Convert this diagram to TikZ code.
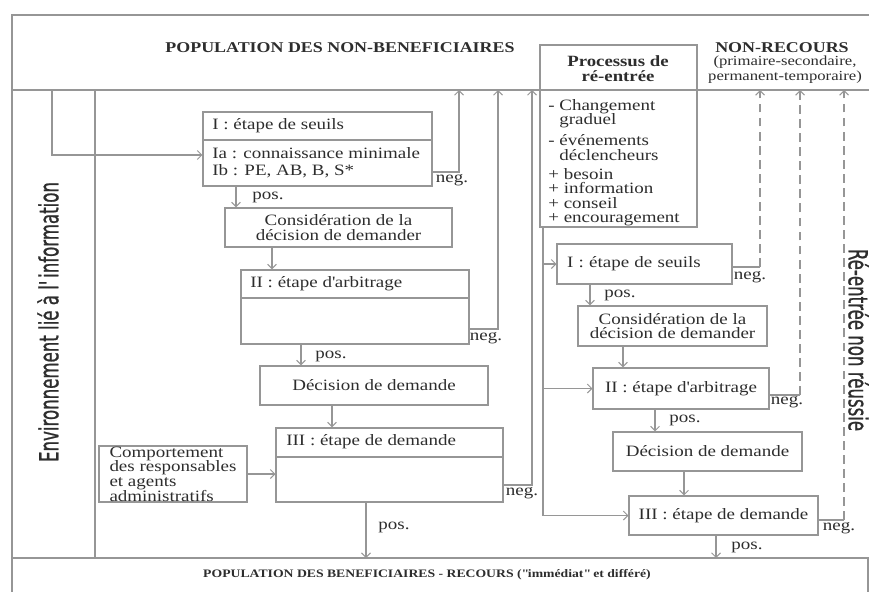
\documentclass[tikz,border=0pt]{standalone}
\usepackage{fontspec}
\setmainfont{Liberation Serif}[FakeStretch=1.2]
\newfontfamily\sidefont[FakeStretch=0.63, FakeBold=0.8]{DejaVu Sans}
\usetikzlibrary{arrows.meta, positioning}
\definecolor{linegray}{RGB}{150, 150, 150}
\definecolor{inkgray}{RGB}{45, 45, 45}
\newcommand{\tightlines}{\lineskiplimit-6pt\relax}
\newcommand{\straightq}{{\XeTeXglyph\XeTeXglyphindex "quotedbl"\relax}}
\newcommand{\straighta}{{\XeTeXglyph\XeTeXglyphindex "quotesingle"\relax}}

\tikzset{
  stage/.style={draw=linegray, line width=0.6pt, inner sep=0pt},
  txt/.style={text=inkgray, font=\fontsize{9}{8.3}\selectfont\tightlines, inner sep=0pt},
  head/.style={text=inkgray, font=\bfseries\fontsize{8.5}{10}\selectfont, inner sep=0pt},
  tag/.style={text=inkgray, font=\fontsize{9}{9}\selectfont, inner sep=0pt},
  side/.style={text=inkgray, font=\sidefont\fontsize{15}{15}\selectfont, inner sep=0pt},
  rule/.style={draw=linegray, line width=0.6pt},
  arr/.style={draw=linegray, line width=0.6pt, -{Straight Barb[length=2.5pt, width=5pt]}},
  negline/.style={draw=linegray, line width=0.6pt, dash pattern=on 5pt off 3pt, -{Straight Barb[length=2.5pt, width=5pt]}}
}

\begin{document}
\begin{tikzpicture}[x=0.02cm, y=-0.02cm]
  \useasboundingbox (0,0) rectangle (869,592);

  % Frame and bands
  \draw[rule] (869,15) -- (12,15) -- (12,592);
  \draw[rule] (12,90) -- (869,90);
  \draw[rule] (95,90) -- (95,558);
  \draw[rule] (12,558) -- (868,558) -- (868,592);

  \node[head] (nonbenef) at (340,48) {POPULATION DES NON-BENEFICIAIRES};
  \node[head] (nonrecours) at (782,48) {NON-RECOURS};
  \node[txt, font=\fontsize{7.9}{8.5}\selectfont\tightlines, align=center] (nonrecsub) at (785,70) {(primaire-secondaire,\\permanent-temporaire)};
  \node[head, font=\bfseries\fontsize{6.5}{8}\selectfont] (benef) at (427,575) {POPULATION DES BENEFICIAIRES - RECOURS (\straightq immédiat\straightq{} et différé)};

  \node[side, rotate=90] (envinfo) at (48,322) {Environnement lié à l\straighta information};
  \node[side, rotate=-90] (reentree) at (859,340) {Ré-entrée non réussie};

  % First pass
  \node[stage, minimum width=4.58cm, minimum height=1.48cm] (seuilsA) at (317.5,149) {};
  \draw[rule] (seuilsA.west |- 0,140) -- (seuilsA.east |- 0,140);
  \node[txt, anchor=west] (seuilsAt) at (212,126) {I : étape de seuils};
  \node[txt, anchor=west, align=left] (seuilsAs) at (212,163) {Ia : connaissance minimale\\[1.5pt]Ib : PE, AB, B, S*};

  \node[stage, txt, minimum width=4.54cm, minimum height=0.78cm, align=center] (considA) at (338.5,227.5) {Considération de la\\décision de demander};

  \node[stage, minimum width=4.56cm, minimum height=1.48cm] (arbitA) at (355,307) {};
  \draw[rule] (arbitA.west |- 0,298) -- (arbitA.east |- 0,298);
  \node[txt, anchor=west] (arbitAt) at (250,284) {II : étape d\straighta arbitrage};

  \node[stage, txt, minimum width=4.56cm, minimum height=0.78cm] (decisA) at (374,385.5) {Décision de demande};

  \node[stage, minimum width=4.54cm, minimum height=1.48cm] (demA) at (389.5,465) {};
  \draw[rule] (demA.west |- 0,457) -- (demA.east |- 0,457);
  \node[txt, anchor=west] (demAt) at (286,442) {III : étape de demande};

  \node[stage, txt, minimum width=2.96cm, minimum height=1.12cm, align=left] (comport) at (173,474) {Comportement\\des responsables\\et agents\\administratifs};

  % Re-entry
  \node[stage, minimum width=3.14cm, minimum height=3.64cm] (processus) at (618.5,136) {};
  \node[txt, font=\bfseries\fontsize{8.9}{8.5}\selectfont\tightlines, align=center] (processusT) at (618,69) {Processus de\\ré-entrée};
  \node[txt, anchor=north west, align=left] (processusL) at (548,99) {- Changement\\\hphantom{- }graduel\\[3.6pt]- événements\\\hphantom{- }déclencheurs\\[2.4pt]+ besoin\\+ information\\+ conseil\\+ encouragement};

  \node[stage, txt, minimum width=3.5cm, minimum height=0.8cm, text width=3.1cm, align=left] (seuilsB) at (644.5,264) {I : étape de seuils};
  \node[stage, txt, minimum width=3.78cm, minimum height=0.8cm, align=center] (considB) at (672.5,326) {Considération de la\\décision de demander};
  \node[stage, txt, minimum width=3.52cm, minimum height=0.82cm] (arbitB) at (681,388.5) {II : étape d\straighta arbitrage};
  \node[stage, txt, minimum width=3.78cm, minimum height=0.78cm] (decisB) at (707.5,451.5) {Décision de demande};
  \node[stage, txt, minimum width=3.78cm, minimum height=0.78cm] (demB) at (723.5,515.5) {III : étape de demande};

  % Connectors, first pass
  \coordinate (envtop) at (52,90);
  \draw[arr] (envtop) |- ([yshift=-0.12cm]seuilsA.west);
  \draw[arr] (comport.east) -- (comport.east -| demA.west);

  \draw[arr] (seuilsA.south -| 236,0) -- (considA.north -| 236,0);
  \draw[arr] (considA.south -| 272,0) -- (arbitA.north -| 272,0);
  \draw[arr] (arbitA.south -| 301,0) -- (decisA.north -| 301,0);
  \draw[arr] (decisA.south -| 332,0) -- (demA.north -| 332,0);
  \coordinate (benefA) at (366,558);
  \draw[arr] (demA.south -| benefA) -- (benefA);

  \coordinate (negA1) at (459,90);
  \coordinate (negA2) at (498,90);
  \coordinate (negA3) at (532,90);
  \draw[arr] (seuilsA.east |- 0,172) -| (negA1);
  \draw[arr] (arbitA.east |- 0,329) -| (negA2);
  \draw[arr] (demA.east |- 0,485) -| (negA3);

  \node[tag] (posA1) at (268,197) {pos.};
  \node[tag] (negA1t) at (452,180) {neg.};
  \node[tag] (negA2t) at (486,338) {neg.};
  \node[tag] (posA2) at (331,356) {pos.};
  \node[tag] (negA3t) at (522,493) {neg.};
  \node[tag] (posA3) at (394,527) {pos.};

  % Connectors, re-entry pass
  \draw[arr] (processus.south -| 543,0) |- (demB.west);
  \draw[arr] (543,0 |- seuilsB.west) -- (seuilsB.west);
  \draw[arr] (543,0 |- arbitB.west) -- (arbitB.west);

  \draw[arr] (seuilsB.south -| 590,0) -- (considB.north -| 590,0);
  \draw[arr] (considB.south -| 623,0) -- (arbitB.north -| 623,0);
  \draw[arr] (arbitB.south -| 655,0) -- (decisB.north -| 655,0);
  \draw[arr] (decisB.south -| 684,0) -- (demB.north -| 684,0);
  \coordinate (benefB) at (716,558);
  \draw[arr] (demB.south -| benefB) -- (benefB);

  \coordinate (negB1) at (760,90);
  \coordinate (negB2) at (800,90);
  \coordinate (negB3) at (844,90);
  \draw[rule] (seuilsB.east |- 0,267) -- (negB1 |- 0,267);
  \draw[negline] (negB1 |- 0,267) -- (negB1);
  \draw[rule] (arbitB.east |- 0,395) -- (negB2 |- 0,395);
  \draw[negline] (negB2 |- 0,395) -- (negB2);
  \draw[rule] (demB.east |- 0,520) -- (negB3 |- 0,520);
  \draw[negline] (negB3 |- 0,520) -- (negB3);

  \node[tag] (negB1t) at (750,277) {neg.};
  \node[tag] (posB1) at (620,295) {pos.};
  \node[tag] (negB2t) at (787,402) {neg.};
  \node[tag] (posB2) at (685,420) {pos.};
  \node[tag] (negB3t) at (839,528) {neg.};
  \node[tag] (posB3) at (747,547) {pos.};
\end{tikzpicture}
\end{document}
